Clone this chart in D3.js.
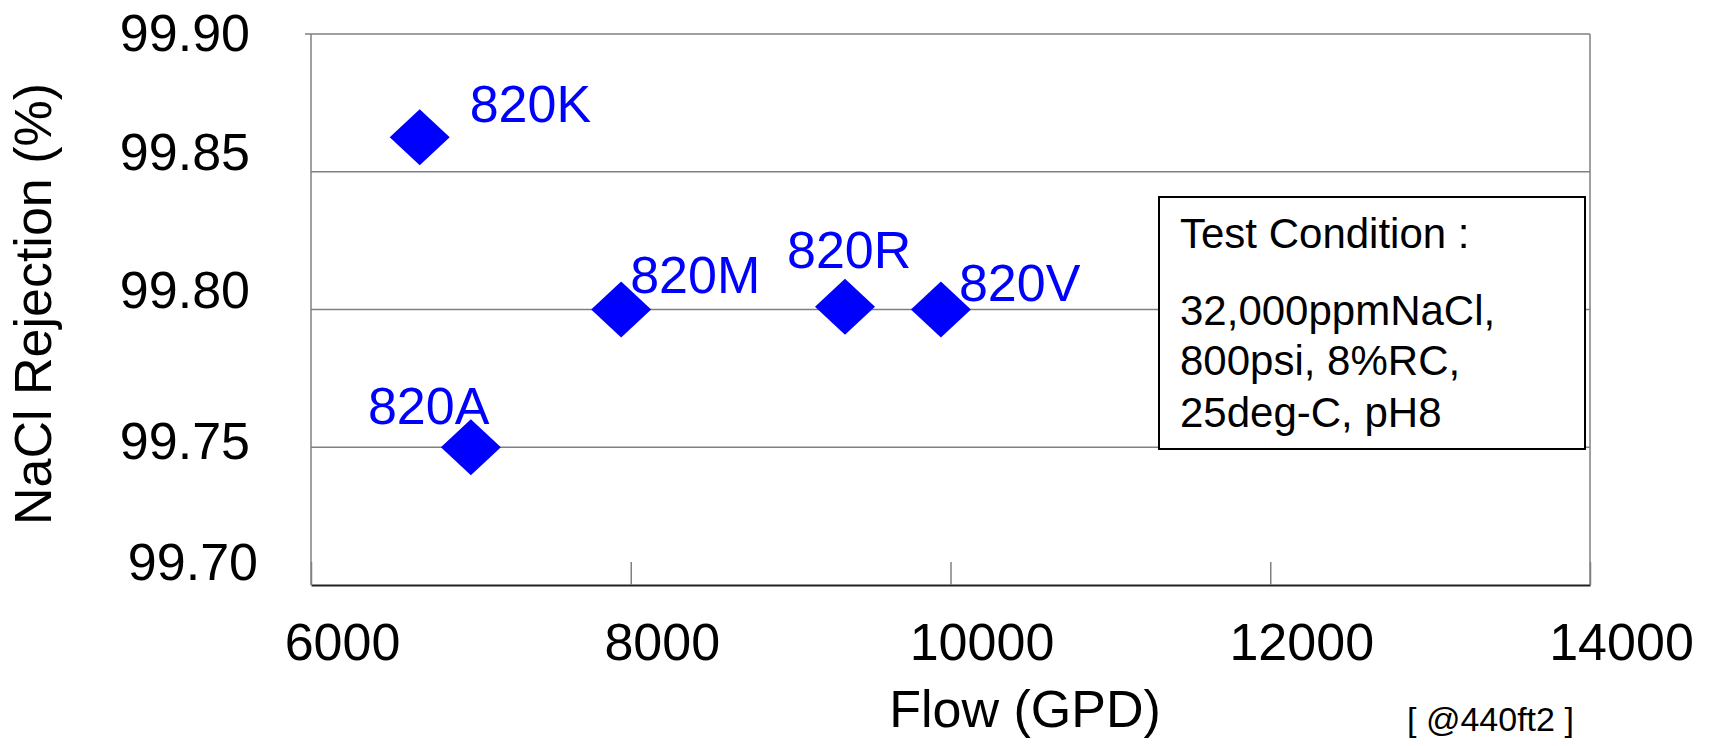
<!DOCTYPE html>
<html>
<head>
<meta charset="utf-8">
<script src="https://cdn.jsdelivr.net/npm/d3@7"></script>
<style>
  html, body { margin: 0; padding: 0; background: #fff; }
  svg { display: block; }
  text { font-family: "Liberation Sans", Arial, Helvetica, sans-serif; }
</style>
</head>
<body>
<svg id="chart" width="1716" height="746"></svg>
<script>
// ---- data ----
const products  = ["820K", "820A", "820M", "820R", "820V"];
const flowGPD   = [6680, 7000, 7940, 9340, 9940];
const rejection = [99.8625, 99.75, 99.80, 99.801, 99.80];
const xTicks    = [6000, 8000, 10000, 12000, 14000];
const yTicks    = [99.70, 99.75, 99.80, 99.85, 99.90];
const conditionLines = ["Test Condition :", "32,000ppmNaCl,", "800psi, 8%RC,", "25deg-C, pH8"];
const xTitle = "Flow (GPD)";
const yTitle = "NaCl Rejection (%)";
const note   = "[ @440ft2 ]";

(function () {
// ---- layout ----
const svg = d3.select("#chart");
const pLeft = 311, pRight = 1590, pTop = 34, pBottom = 585;
const x = d3.scaleLinear().domain([6000, 14000]).range([pLeft, pRight]);
const y = d3.scaleLinear().domain([99.70, 99.90]).range([pBottom, pTop]);
const grid = "#808080";
const blue = "#0000ff";

// gridlines (all y ticks above the bottom axis)
svg.append("g").selectAll("line")
  .data(yTicks.filter(v => v > 99.70))
  .join("line")
  .attr("x1", pLeft).attr("x2", pRight)
  .attr("y1", d => y(d)).attr("y2", d => y(d))
  .attr("stroke", grid).attr("stroke-width", 1.5);

// top-left small outward tick
svg.append("line").attr("x1", pLeft - 6).attr("x2", pLeft)
  .attr("y1", y(99.90)).attr("y2", y(99.90))
  .attr("stroke", grid).attr("stroke-width", 1.5);

// left and right borders
svg.append("line").attr("x1", pLeft).attr("x2", pLeft).attr("y1", y(99.90)).attr("y2", pBottom)
  .attr("stroke", grid).attr("stroke-width", 1.5);
svg.append("line").attr("x1", pRight).attr("x2", pRight).attr("y1", y(99.90)).attr("y2", pBottom)
  .attr("stroke", grid).attr("stroke-width", 1.5);

// x axis (ticks pointing inward)
const xAxis = d3.axisBottom(x).tickValues(xTicks).tickSizeInner(-23).tickSizeOuter(0).tickFormat(d3.format("d"));
const gx = svg.append("g").attr("transform", `translate(0,${pBottom})`).call(xAxis);
gx.select(".domain").attr("stroke", "#222").attr("stroke-width", 2);
gx.selectAll(".tick line").attr("stroke", grid).attr("stroke-width", 1.5);
gx.selectAll(".tick text")
  .attr("font-size", 52).attr("fill", "#000")
  .attr("dx", 31).attr("y", 75).attr("dy", 0);

// y axis labels (no line); baseline nudges per tick to follow the reference placement
const yLabelNudge = new Map([[99.90, [0, 16]], [99.85, [0, -2]], [99.80, [0, -2]], [99.75, [0, 11]], [99.70, [8, -6]]]);
const yAxis = d3.axisLeft(y).tickValues(yTicks).tickSize(0).tickFormat(d3.format(".2f"));
const gy = svg.append("g").attr("transform", `translate(${pLeft},0)`).call(yAxis);
gy.select(".domain").remove();
gy.selectAll(".tick text")
  .attr("font-size", 52).attr("fill", "#000")
  .attr("x", -61)
  .attr("dx", d => yLabelNudge.get(d)[0])
  .attr("dy", d => yLabelNudge.get(d)[1]);

// axis titles
svg.append("text").attr("transform", "translate(51,304) rotate(-90)")
  .attr("text-anchor", "middle").attr("font-size", 52).attr("fill", "#000").text(yTitle);
svg.append("text").attr("x", 1025).attr("y", 727)
  .attr("text-anchor", "middle").attr("font-size", 52).attr("fill", "#000").text(xTitle);
svg.append("text").attr("x", 1407).attr("y", 731)
  .attr("font-size", 34).attr("fill", "#000").style("white-space", "pre").text(note);

// condition box
const box = svg.append("g");
box.append("rect").attr("x", 1159).attr("y", 197).attr("width", 426).attr("height", 252)
  .attr("fill", "#fff").attr("stroke", "#000").attr("stroke-width", 2);
const lineY = [248, 325, 375, 427];
box.selectAll("text").data(conditionLines).join("text")
  .attr("x", 1180).attr("y", (d, i) => lineY[i])
  .attr("font-size", 42).attr("fill", "#000").text(d => d);

// points
const pts = products.map((p, i) => ({ name: p, flow: flowGPD[i], rej: rejection[i] }));
const hw = 30, hh = 28;
const diamond = `M0,${-hh}L${hw},0L0,${hh}L${-hw},0Z`;
svg.append("g").selectAll("path").data(pts).join("path")
  .attr("d", diamond)
  .attr("transform", d => `translate(${x(d.flow)},${y(d.rej)})`)
  .attr("fill", blue);

// labels (offsets relative to each point)
const labelOffset = {
  "820K": [50, -15],
  "820A": [-103, -23],
  "820M": [9, -17],
  "820R": [-58, -39],
  "820V": [18, -9]
};
svg.append("g").selectAll("text").data(pts).join("text")
  .attr("x", d => x(d.flow) + labelOffset[d.name][0])
  .attr("y", d => y(d.rej) + labelOffset[d.name][1])
  .attr("font-size", 52).attr("fill", blue).text(d => d.name);
})();
</script>
</body>
</html>
